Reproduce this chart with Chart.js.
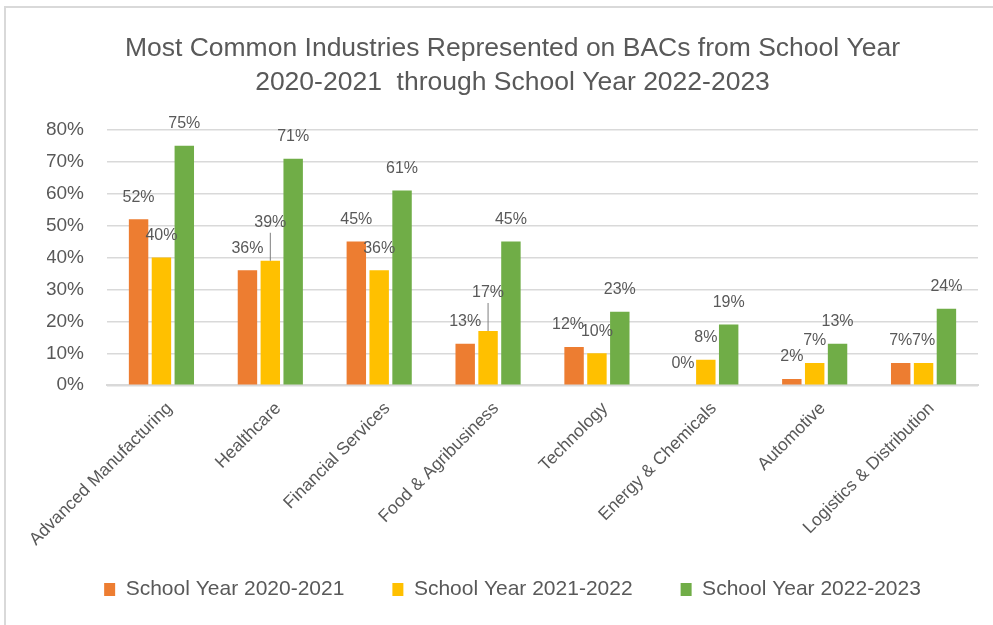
<!DOCTYPE html>
<html>
<head>
<meta charset="utf-8">
<script src="https://cdn.jsdelivr.net/npm/chart.js@4"></script>
<style>
  html, body { margin: 0; padding: 0; background: #fff; }
  #wrap { position: relative; width: 993px; height: 625px; }
  #frame { position: absolute; left: 4px; top: 6px; right: -10px; bottom: -10px;
           border-top: 2px solid #d9d9d9; border-left: 2px solid #d9d9d9; pointer-events: none; }
</style>
</head>
<body>
<div id="wrap">
  <canvas id="bacChart" width="993" height="625"></canvas>
  <div id="frame"></div>
</div>
<script>
// industries on the x axis
const industries = ['Advanced Manufacturing', 'Healthcare', 'Financial Services', 'Food & Agribusiness',
  'Technology', 'Energy & Chemicals', 'Automotive', 'Logistics & Distribution'];
// share of BACs (%) per school year
const year2021 = [52, 36, 45, 13, 12, 0, 2, 7];
const year2122 = [40, 39, 36, 17, 10, 8, 7, 7];
const year2223 = [75, 71, 61, 45, 23, 19, 13, 24];
const yTicks = [0, 10, 20, 30, 40, 50, 60, 70, 80];

// labels that were moved up with a leader line in the original (dataset index, category index)
const leaderLabels = [[1, 1], [1, 3]];

const grey = '#595959';
const fontFamily = "'Liberation Sans', Arial, sans-serif";

const barLabels = {
  id: 'barLabels',
  afterDatasetsDraw(chart) {
    const ctx = chart.ctx;
    ctx.save();
    ctx.font = '16px ' + fontFamily;
    ctx.fillStyle = grey;
    ctx.strokeStyle = '#7f7f7f';
    ctx.lineWidth = 1;
    ctx.textAlign = 'center';
    ctx.textBaseline = 'middle';
    chart.data.datasets.forEach((ds, di) => {
      chart.getDatasetMeta(di).data.forEach((bar, i) => {
        let x = bar.x;
        let cy = bar.y - 22;
        if (leaderLabels.some(l => l[0] === di && l[1] === i)) {
          cy = bar.y - 38;
          ctx.beginPath();
          ctx.moveTo(bar.x, cy + 10);
          ctx.lineTo(bar.x, bar.y);
          ctx.stroke();
        } else if (di === 0 && ds.data[i] > chart.data.datasets[1].data[i] && ds.data[i] - chart.data.datasets[1].data[i] < 4) {
          x -= 6; // keep "12%" clear of "10%"
        }
        ctx.fillText(ds.data[i] + '%', x, cy);
      });
    });
    ctx.restore();
  }
};

const bacCtx = document.getElementById('bacChart').getContext('2d');
const bacChart = new Chart(bacCtx, {
  type: 'bar',
  data: {
    labels: industries,
    datasets: [
      { label: 'School Year 2020-2021', data: year2021, backgroundColor: '#ED7D31' },
      { label: 'School Year 2021-2022', data: year2122, backgroundColor: '#FFC000' },
      { label: 'School Year 2022-2023', data: year2223, backgroundColor: '#70AD47' }
    ]
  },
  options: {
    responsive: false,
    animation: false,
    devicePixelRatio: 1,
    layout: { padding: { left: 47, right: 15, top: 31, bottom: 15 } },
    datasets: { bar: { categoryPercentage: 0.63, barPercentage: 0.85 } },
    plugins: {
      title: {
        display: true,
        text: ['Most Common Industries Represented on BACs from School Year', '2020-2021  through School Year 2022-2023'],
        color: grey,
        font: { family: fontFamily, size: 26.5, weight: 'normal', lineHeight: 1.3 },
        padding: { top: 0, bottom: 30 }
      },
      legend: {
        position: 'bottom',
        labels: {
          color: grey,
          font: { family: fontFamily, size: 21 },
          boxWidth: 11,
          boxHeight: 13,
          padding: 48
        }
      },
      tooltip: { enabled: false }
    },
    scales: {
      x: {
        grid: { display: false, drawTicks: false },
        border: { color: '#d9d9d9', width: 2 },
        ticks: {
          color: grey,
          font: { family: fontFamily, size: 17.5 },
          minRotation: 45,
          maxRotation: 45,
          padding: 13,
          labelOffset: 8
        },
        afterFit(axis) {
          axis.paddingLeft = 0; // let the first slanted label run past the y axis
          axis.height -= 32;    // labels may hang into the legend's gap
          axis._computeLabelArea = () => undefined; // so don't clip them to the axis box
        }
      },
      y: {
        min: 0,
        max: 80,
        afterBuildTicks(axis) { axis.ticks = yTicks.map(v => ({ value: v })); },
        afterFit(axis) { axis.width = 60; },
        grid: { color: '#d9d9d9', lineWidth: 1.5, drawTicks: false },
        border: { display: false },
        ticks: {
          color: grey,
          font: { family: fontFamily, size: 19 },
          padding: 23,
          callback: v => v + '%'
        }
      }
    }
  },
  plugins: [barLabels]
});
</script>
</body>
</html>
